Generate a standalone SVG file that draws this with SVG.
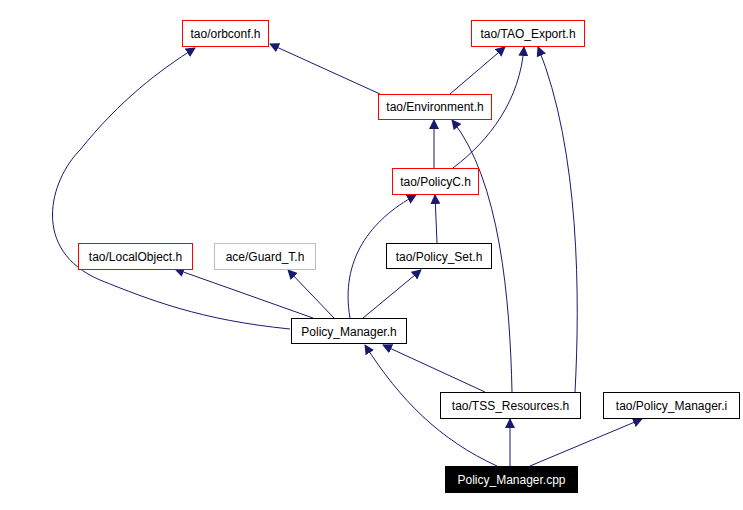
<svg xmlns="http://www.w3.org/2000/svg" width="743" height="510" viewBox="0 0 743 510">
<style>
.n rect{fill:#fff;stroke:#000;stroke-width:1}
.r rect{stroke:#f00}
.g rect{stroke:#bfbfbf}
text{font-family:"Liberation Sans",Arial,sans-serif;font-size:12px;text-anchor:middle}
.e path{fill:none;stroke:#191970;stroke-width:1;marker-end:url(#a)}
</style>
<defs><marker id="a" viewBox="0 0 10 10" refX="9" refY="5" markerWidth="10" markerHeight="10" markerUnits="userSpaceOnUse" orient="auto"><path d="M0,0L10,5L0,10z" fill="#191970"/></marker></defs>
<rect width="743" height="510" fill="#fff"/>
<g class="e">
<path d="M380,94L270,44"/>
<path d="M450,94L505,47"/>
<path d="M434,168L434,120"/>
<path d="M453,168C490,140 520,100 524,47"/>
<path d="M512,392C510,300 500,180 452,120"/>
<path d="M575,392C580,300 580,150 538,47"/>
<path d="M437,243L435,195"/>
<path d="M350,318C340,260 370,220 416,195"/>
<path d="M290,329C200,320 150,300 100,280C30,250 50,180 80,150C120,100 160,70 195,48"/>
<path d="M313,318L175,269"/>
<path d="M334,318L288,270"/>
<path d="M363,318L421,270"/>
<path d="M485,392L383,345"/>
<path d="M497,466C440,440 400,400 365,345"/>
<path d="M510,466L510,419"/>
<path d="M530,466L642,419"/>
</g>
<g id="orbconf" class="n r"><rect x="182.5" y="20.5" width="86" height="26"/><text x="225.5" y="38">tao/orbconf.h</text></g>
<g id="taoexport" class="n r"><rect x="471.5" y="20.5" width="113" height="26"/><text x="528" y="38">tao/TAO_Export.h</text></g>
<g id="env" class="n r"><rect x="378.5" y="94.5" width="113" height="25"/><text x="435" y="111">tao/Environment.h</text></g>
<g id="policyc" class="n r"><rect x="392.5" y="168.5" width="86" height="26"/><text x="435.5" y="186">tao/PolicyC.h</text></g>
<g id="localobj" class="n r"><rect x="78.5" y="243.5" width="114" height="26"/><text x="135.5" y="261">tao/LocalObject.h</text></g>
<g id="guard" class="n g"><rect x="214.5" y="243.5" width="101" height="26"/><text x="265" y="261">ace/Guard_T.h</text></g>
<g id="policyset" class="n"><rect x="386.5" y="243.5" width="105" height="25"/><text x="439" y="261">tao/Policy_Set.h</text></g>
<g id="pmh" class="n"><rect x="291.5" y="318.5" width="115" height="25"/><text x="349" y="336">Policy_Manager.h</text></g>
<g id="tss" class="n"><rect x="440.5" y="392.5" width="140" height="26"/><text x="510.5" y="410">tao/TSS_Resources.h</text></g>
<g id="pmi" class="n"><rect x="603.5" y="392.5" width="136" height="26"/><text x="671.5" y="410">tao/Policy_Manager.i</text></g>
<g id="pmcpp"><rect x="445.5" y="466.5" width="132" height="26" fill="#000" stroke="#000"/><text x="511.5" y="484" fill="#fff">Policy_Manager.cpp</text></g>
</svg>
